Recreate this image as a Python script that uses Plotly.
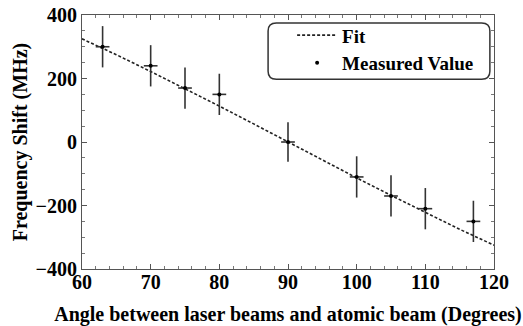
import plotly.graph_objects as go

angle = [63, 70, 75, 80, 90, 100, 105, 110, 117]
shift = [300, 240, 170, 150, 0, -110, -170, -210, -250]
shift_err = [65, 65, 65, 65, 62, 65, 65, 65, 65]
angle_err = [1, 1, 1, 1, 1, 1, 1, 1, 1]

# Fit curve
fit_angle = [60, 65, 70, 75, 80, 85, 90, 95, 100, 105, 110, 115, 120]
fit_shift = [325, 275, 222, 168, 113, 57, 0, -57, -113, -168, -222, -275, -325]

x_ticks = [60, 70, 80, 90, 100, 110, 120]
y_ticks = [-400, -200, 0, 200, 400]

FONT = "Liberation Serif"

fig = go.Figure()
fig.add_trace(go.Scatter(
    x=fit_angle, y=fit_shift, mode="lines", name="Fit",
    line=dict(color="#222", width=1.6, dash="3px,2px"),
    legendgroup="a",
))
fig.add_trace(go.Scatter(
    x=angle, y=shift, mode="markers", name="Measured Value",
    marker=dict(color="black", size=4),
    error_y=dict(type="data", array=shift_err, width=0, thickness=1.6, color="#333"),
    error_x=dict(type="data", array=angle_err, width=0, thickness=1.6, color="#333"),
    legendgroup="b",
))

# rounded legend frame (data coordinates)
x0, x1, y0, y1 = 87.1, 119.4, 198, 375
rx, ry = 1.2, 25
path = (f"M {x0+rx},{y0} L {x1-rx},{y0} Q {x1},{y0} {x1},{y0+ry} "
        f"L {x1},{y1-ry} Q {x1},{y1} {x1-rx},{y1} L {x0+rx},{y1} "
        f"Q {x0},{y1} {x0},{y1-ry} L {x0},{y0+ry} Q {x0},{y0} {x0+rx},{y0} Z")
fig.add_shape(type="path", path=path, xref="x", yref="y",
              line=dict(color="#333", width=1.5), fillcolor="rgba(0,0,0,0)")

axis_common = dict(
    showgrid=False, zeroline=False, showline=True, mirror="ticks",
    linecolor="#555", linewidth=1.2, ticks="inside", ticklen=5, tickwidth=1,
    tickcolor="#555", automargin=False, ticklabeloverflow="allow",
    tickfont=dict(family=FONT, size=20, color="black", weight="bold"),
)

fig.update_xaxes(range=[60, 120], tickvals=x_ticks, ticklabelstandoff=-5,
                 minor=dict(dtick=2, ticks="inside", ticklen=2.5, tickcolor="#777"),
                 title=dict(text="Angle between laser beams and atomic beam (Degrees)",
                            font=dict(family=FONT, size=20, color="black", weight="bold"),
                            standoff=15),
                 **axis_common)
fig.update_yaxes(range=[-400, 400], tickvals=y_ticks,
                 minor=dict(dtick=50, ticks="inside", ticklen=2.5, tickcolor="#777"),
                 title=dict(text="Frequency Shift (MHz)",
                            font=dict(family=FONT, size=20, color="black", weight="bold"),
                            standoff=2),
                 **axis_common)

fig.update_layout(
    width=523, height=326,
    margin=dict(l=82, r=29, t=15, b=57),
    paper_bgcolor="white", plot_bgcolor="white",
    showlegend=True,
    legend=dict(x=0.51, y=0.995, xanchor="left", yanchor="top",
                bgcolor="rgba(0,0,0,0)", borderwidth=0,
                tracegroupgap=0, itemwidth=40,
                font=dict(family=FONT, size=19, color="black", weight="bold")),
)

# remove the page's default 8px body margin so the figure fills the window
fig.write_html("out.html", config={"displayModeBar": False},
               post_script="document.body.style.margin='0';")
